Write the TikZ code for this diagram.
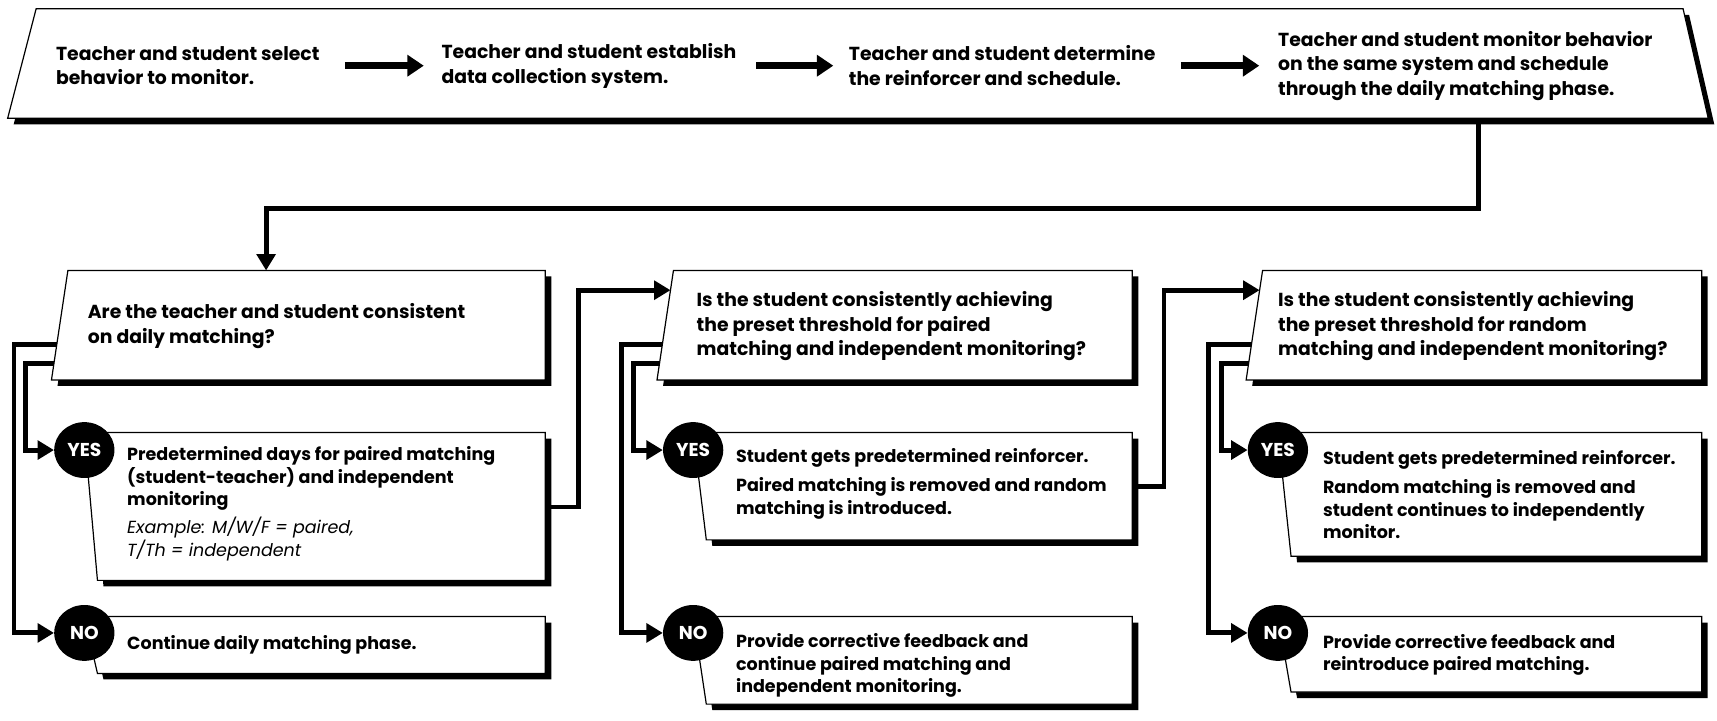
\documentclass[tikz,border=0pt]{standalone}
\usepackage{fontspec}
\setmainfont{Poppins}
\usetikzlibrary{arrows.meta,calc,shapes.geometric,shadows}

\tikzset{
  panel/.style={fill=white, draw=black, line width=1.1pt, line join=miter,
    drop shadow={shadow xshift=5.5pt, shadow yshift=-5.5pt, fill=black, opacity=1}},
  label/.style={anchor=west, align=left, inner sep=0pt,
    font=\bfseries\fontsize{17.2}{22.5}\selectfont},
  reply/.style={label, font=\bfseries\fontsize{16}{20.5}\selectfont},
  answer/.style={ellipse, fill=black, text=white, inner sep=0pt,
    minimum width=55pt, minimum height=51pt, font=\bfseries\fontsize{17}{17}\selectfont},
  link/.style={line width=4.5pt, line join=miter},
  linkarrow/.style={link, -{Triangle[length=15pt,width=17pt]}},
  bannerarrow/.style={line width=6pt, -{Triangle[length=15pt,width=19pt]}},
}

\begin{document}
\begin{tikzpicture}[x=1pt,y=-1pt]
\useasboundingbox (0,0) rectangle (1568,658);

% banner
\path[panel] (33,8) -- (1537,8) -- (1560,108) -- (7,108) -- cycle;
\coordinate (bdrop) at (1350,108);

% question boxes
\path[panel] (62,247) coordinate (q1a) -- (498,247) -- (498,347) -- (47,347) coordinate (q1d) -- cycle;
\path[panel] (615,247) coordinate (q2a) -- (1034,247) -- (1034,347) -- (600,347) coordinate (q2d) -- cycle;
\path[panel] (1153,247) coordinate (q3a) -- (1554,247) -- (1554,347) -- (1138,347) coordinate (q3d) -- cycle;

% answer boxes
\path[panel] (77,395) -- (498,395) -- (498,530) -- (89,530) -- cycle;
\path[panel] (77,563) -- (498,563) -- (498,615) -- (89,615) -- cycle;
\path[panel] (633,395) -- (1034,395) -- (1034,493) -- (645,493) -- cycle;
\path[panel] (633,563) -- (1034,563) -- (1034,643) -- (645,643) -- cycle;
\path[panel] (1167,395) -- (1554,395) -- (1554,508) -- (1179,508) -- cycle;
\path[panel] (1167,563) -- (1554,563) -- (1554,632) -- (1179,632) -- cycle;

\coordinate (q1in) at (243,247);
\coordinate (q2in) at ($(q2a)!0.18!(q2d)$);
\coordinate (q3in) at ($(q3a)!0.18!(q3d)$);
\coordinate (y1out) at (498,463);
\coordinate (y2out) at (1034,444);

% yes / no markers
\node[answer] (yes1) at (77,411) {YES};
\node[answer] (no1) at (77,578) {NO};
\node[answer] (yes2) at (633,411) {YES};
\node[answer] (no2) at (633,578) {NO};
\node[answer] (yes3) at (1167,411) {YES};
\node[answer] (no3) at (1167,578) {NO};

% banner texts
\node[label] (t1) at (51,60) {Teacher and student select\\behavior to monitor.};
\node[label] (t2) at (403,60) {Teacher and student establish\\data collection system.};
\node[label] (t3) at (775,60) {Teacher and student determine\\the reinforcer and schedule.};
\node[label] (t4) at (1167,60) {Teacher and student monitor behavior\\on the same system and schedule\\through the daily matching phase.};

% questions
\node[label] (q1) at (80,298) {Are the teacher and student consistent\\on daily matching?};
\node[label] (q2) at (636,298) {Is the student consistently achieving\\the preset threshold for paired\\matching and independent monitoring?};
\node[label] (q3) at (1167,298) {Is the student consistently achieving\\the preset threshold for random\\matching and independent monitoring?};

% answers
\node[reply] (a1) at (116,460) {Predetermined days for paired matching\\(student-teacher) and independent\\monitoring\\[5pt]{\mdseries\itshape Example: M/W/F = paired,}\\{\mdseries\itshape T/Th = independent}};
\node[reply] (a2) at (116,589) {Continue daily matching phase.};
\node[reply] (a3) at (672,442) {Student gets predetermined reinforcer.\\[6pt]Paired matching is removed and random\\matching is introduced.};
\node[reply] (a4) at (672,608) {Provide corrective feedback and\\continue paired matching and\\independent monitoring.};
\node[reply] (a5) at (1208,452) {Student gets predetermined reinforcer.\\[6pt]Random matching is removed and\\student continues to independently\\monitor.};
\node[reply] (a6) at (1208,598) {Provide corrective feedback and\\reintroduce paired matching.};

% banner arrows
\draw[bannerarrow] ([xshift=23pt]t1.east) -- ([xshift=-16pt]t2.west);
\draw[bannerarrow] ([xshift=18pt]t2.east) -- ([xshift=-14pt]t3.west);
\draw[bannerarrow] ([xshift=23pt]t3.east) -- ([xshift=-17pt]t4.west);

% connectors
\draw[linkarrow] (bdrop) -- ++(0,82) -| (q1in);
\draw[linkarrow] ($(q1a)!0.68!(q1d)$) -- ++(-39,0) |- (no1);
\draw[linkarrow] ($(q1a)!0.85!(q1d)$) -- ++(-26,0) |- (yes1);
\draw[linkarrow] (y1out) -- ++(30,0) |- (q2in);
\draw[linkarrow] ($(q2a)!0.68!(q2d)$) -- ++(-37,0) |- (no2);
\draw[linkarrow] ($(q2a)!0.85!(q2d)$) -- ++(-24,0) |- (yes2);
\draw[linkarrow] (y2out) -- ++(29,0) |- (q3in);
\draw[linkarrow] ($(q3a)!0.68!(q3d)$) -- ++(-39,0) |- (no3);
\draw[linkarrow] ($(q3a)!0.85!(q3d)$) -- ++(-25,0) |- (yes3);
\end{tikzpicture}
\end{document}
